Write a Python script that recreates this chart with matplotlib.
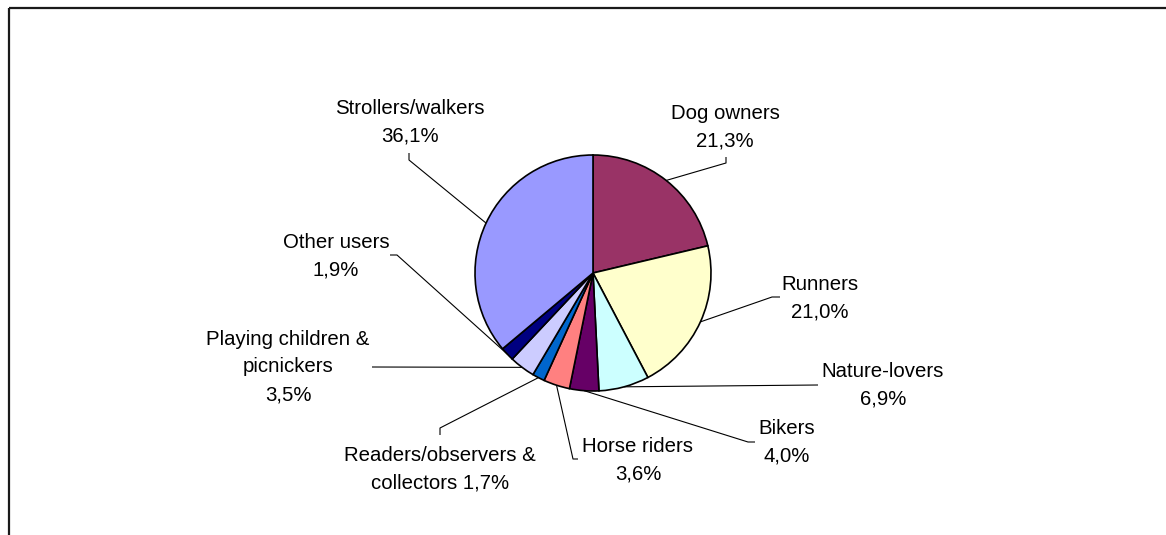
import numpy as np
import matplotlib
matplotlib.use("Agg")
import matplotlib.pyplot as plt
from matplotlib.patches import Rectangle

plt.rcParams['font.family'] = ['Liberation Sans', 'DejaVu Sans']

# data, clockwise from 12 o'clock
categories = ["Dog owners", "Runners", "Nature-lovers", "Bikers", "Horse riders",
              "Readers/observers &\ncollectors", "Playing children &\npicnickers",
              "Other users", "Strollers/walkers"]
shares = [21.3, 21.0, 6.9, 4.0, 3.6, 1.7, 3.5, 1.9, 36.1]
colors = ["#993366", "#FFFFCC", "#CCFFFF", "#660066", "#FF8080",
          "#0066CC", "#CCCCFF", "#000080", "#9999FF"]

# label layout in pixel coords: text centre, leader end, elbow offset
label_xy = [(725, 127), (820, 298), (883, 385), (787, 442), (638, 460),
            (440, 469), (288, 367), (336, 256), (410, 122)]
leader_end = [(726, 157), (780, 297), (818, 385), (755, 442), (578, 459),
              (440, 435), (372, 367), (390, 255), (409, 153)]
elbow = [(0, 6), (-8, 0), (0, 0), (-7, 0), (-5, 0),
         (0, -7), (0, 0), (7, 0), (0, 7)]

W, H = 1166, 535
CX, CY, R = 593, 273, 118

fig = plt.figure(figsize=(W / 100, H / 100), dpi=100)
ax = fig.add_axes([0, 0, 1, 1])

wedges, _ = ax.pie(shares, colors=colors, center=(CX, CY), radius=R,
                   startangle=-90, counterclock=True,
                   wedgeprops=dict(edgecolor="black", linewidth=1.2))
ax.set_xlim(0, W)
ax.set_ylim(H, 0)
ax.set_aspect("equal")
ax.axis("off")

def fmt(v):
    return f"{v:.1f}".replace(".", ",") + "%"

for i, w in enumerate(wedges):
    mid = np.deg2rad((w.theta1 + w.theta2) / 2)
    px, py = CX + R * np.cos(mid), CY + R * np.sin(mid)
    ex, ey = leader_end[i]
    dx, dy = elbow[i]
    ax.plot([px, ex + dx, ex], [py, ey + dy, ey], color="black", lw=0.8,
            solid_capstyle="butt")
    name = categories[i]
    if name.startswith("Readers"):
        txt = name + " " + fmt(shares[i])
    else:
        txt = name + "\n" + fmt(shares[i])
    tx, ty = label_xy[i]
    ax.text(tx, ty, txt, ha="center", va="center", fontsize=14.7,
            linespacing=1.58, color="black")

# chart area border (top and left visible)
ax.add_patch(Rectangle((9, 8), 1300, 700, fill=False, edgecolor="#1a1a1a",
                       linewidth=1.6))

fig.savefig("out.png", dpi=100)
